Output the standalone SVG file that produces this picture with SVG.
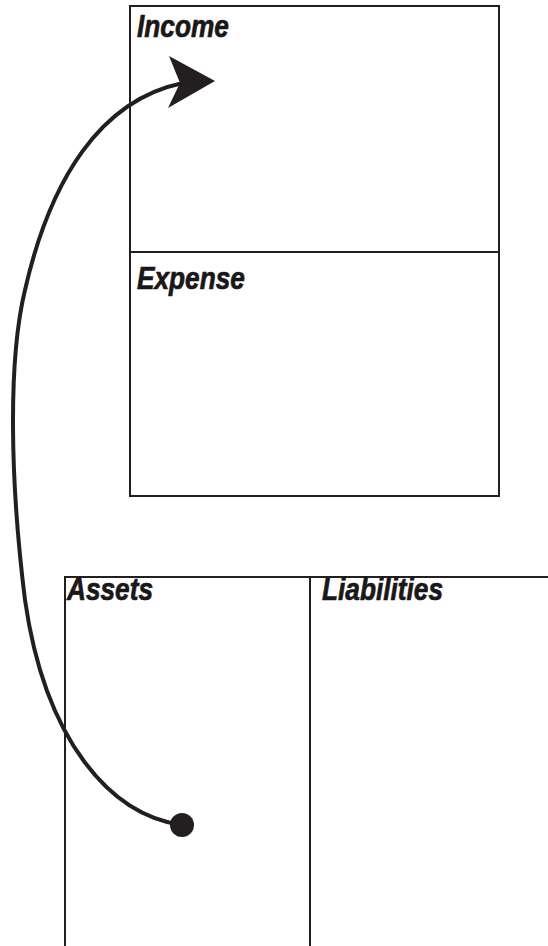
<svg xmlns="http://www.w3.org/2000/svg" width="548" height="946" viewBox="0 0 548 946">
<style>
.box{fill:none;stroke:#231f20;stroke-width:2}
.lbl{font-family:"Liberation Sans",Arial,sans-serif;font-weight:bold;font-style:italic;font-size:32px;fill:#1a1718;stroke:#1a1718;stroke-width:0.7}
.conn{fill:none;stroke:#231f20;stroke-width:4}
</style>
<rect width="548" height="946" fill="#fff"/>
<g id="income">
<rect class="box" x="130" y="6" width="369" height="246"/>
<text class="lbl" transform="translate(137,37) scale(0.82,1)">Income</text>
</g>
<g id="expense">
<rect class="box" x="130" y="252" width="369" height="244"/>
<text class="lbl" transform="translate(137,289) scale(0.82,1)">Expense</text>
</g>
<g id="assets">
<path class="box" d="M65,946 V577 H310 V946"/>
<text class="lbl" transform="translate(67,600) scale(0.82,1)">Assets</text>
</g>
<g id="liabilities">
<path class="box" d="M310,946 V577 H549"/>
<text class="lbl" transform="translate(322,600) scale(0.82,1)">Liabilities</text>
</g>
<g id="connectors">
<path class="conn" d="M182,825 C110,815 45,740 25,600 C10,480 8,360 25,290 C50,180 100,100 183,83"/>
<polygon points="215,81 169,56 180,83 168,108" fill="#231f20"/>
<circle cx="182" cy="825" r="12" fill="#231f20"/>
</g>
</svg>
